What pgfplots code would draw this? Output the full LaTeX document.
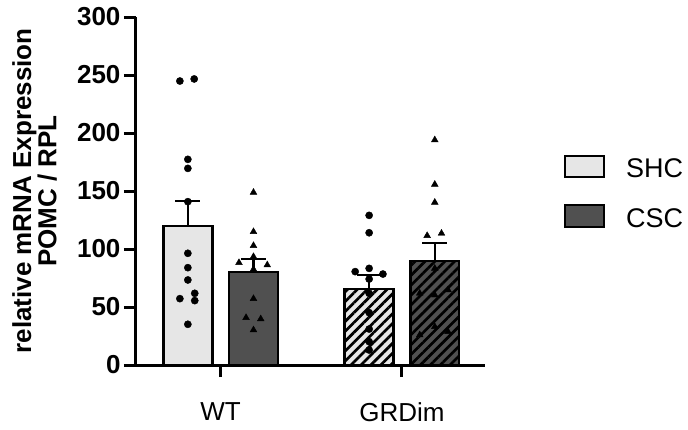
\documentclass[border=0pt]{standalone}
\usepackage{fontspec}
\setmainfont{Liberation Sans}
\usepackage{pgfplots}
\pgfplotsset{compat=1.18}
\usetikzlibrary{patterns.meta}
\definecolor{shcgray}{HTML}{E6E6E6}
\definecolor{cscgray}{HTML}{505050}
\tikzset{
  hatch/.style={postaction={pattern={Lines[angle=45,distance=7pt,line width=2.7pt]}, pattern color=black}},
}
\begin{document}
\begin{tikzpicture}
\begin{axis}[
  scale only axis, width=349pt, height=348pt,
  at={(0,0)}, anchor=south west,
  xmin=0.533, xmax=2.458, ymin=0, ymax=300,
  axis lines=left, axis line style={line width=3pt, -},
  xtick={1,2}, xticklabels={WT,GRDim},
  ytick={0,50,...,300},
  tick align=outside, major tick length=12pt,
  tick style={line width=3pt, black},
  /pgf/number format/assume math mode=true,
  xticklabel style={font=\fontsize{26}{28}\selectfont, yshift=-22pt},
  yticklabel style={font=\bfseries\fontsize{26}{28}\selectfont},
  ylabel={relative mRNA Expression\\POMC / RPL},
  every axis y label/.style={at={(axis description cs:-0.2908,0.5)}, rotate=90, anchor=center,
    align=center, font=\bfseries\fontsize{26}{24}\selectfont},
  clip=false,
]
% bars (mean)
\addplot[ybar, bar width=0.27, bar shift=0pt, fill=shcgray, draw=black, line width=2.4pt,
  error bars/.cd, y dir=plus, y explicit,
  error bar style={line width=2.4pt, black},
  error mark options={rotate=90, mark size=12.5pt, line width=2.4pt, black}]
  coordinates {(0.819,120) +- (0,21.4)};
\addplot[ybar, bar width=0.27, bar shift=0pt, fill=cscgray, draw=black, line width=2.4pt,
  error bars/.cd, y dir=plus, y explicit,
  error bar style={line width=2.4pt, black},
  error mark options={rotate=90, mark size=12.5pt, line width=2.4pt, black}]
  coordinates {(1.181,80.2) +- (0,11.2)};
\addplot[ybar, bar width=0.27, bar shift=0pt, fill=shcgray, draw=black, line width=2.4pt, hatch,
  error bars/.cd, y dir=plus, y explicit,
  error bar style={line width=2.4pt, black},
  error mark options={rotate=90, mark size=12.5pt, line width=2.4pt, black}]
  coordinates {(1.819,65.5) +- (0,12.1)};
\addplot[ybar, bar width=0.27, bar shift=0pt, fill=cscgray, draw=black, line width=2.4pt, hatch,
  error bars/.cd, y dir=plus, y explicit,
  error bar style={line width=2.4pt, black},
  error mark options={rotate=90, mark size=12.5pt, line width=2.4pt, black}]
  coordinates {(2.181,89.4) +- (0,16.0)};
% individual values
\addplot[only marks, mark=*, mark size=3.6pt, black] coordinates {
  (0.775,244.8)(0.854,246.6)(0.819,177.3)(0.819,169.5)(0.819,140.8)(0.819,96.3)
  (0.819,83.9)(0.819,73.3)(0.775,57.2)(0.857,61.8)(0.857,55.5)(0.819,35.1)};
\addplot[only marks, mark=triangle*, mark size=3.9pt, black] coordinates {
  (1.181,148.8)(1.181,114.9)(1.181,102.9)(1.181,93.4)(1.101,88.2)(1.257,86.2)
  (1.181,82.5)(1.181,57.2)(1.140,40.8)(1.221,39.7)(1.181,30.2)};
\addplot[only marks, mark=*, mark size=3.6pt, black] coordinates {
  (1.819,129)(1.819,114)(1.742,80.5)(1.819,83.3)(1.895,78.4)(1.819,74.1)
  (1.819,61.8)(1.819,45.1)(1.819,31)(1.819,20.1)(1.819,12.9)};
\addplot[only marks, mark=triangle*, mark size=3.9pt, black] coordinates {
  (2.181,194)(2.181,155.7)(2.181,140.2)(2.139,111.5)(2.218,113.5)(2.181,83.3)
  (2.098,61.8)(2.181,60.3)(2.254,64.7)(2.181,33)(2.254,28.7)(2.098,25.9)};
\end{axis}
% legend
\draw[fill=shcgray, line width=2pt] (429pt,188pt) rectangle (468pt,209pt);
\draw[fill=cscgray, line width=2pt] (429pt,138pt) rectangle (468pt,160pt);
\node[anchor=base west, inner sep=0pt, font=\fontsize{27}{29}\selectfont] at (490pt,188pt) {SHC};
\node[anchor=base west, inner sep=0pt, font=\fontsize{27}{29}\selectfont] at (490pt,138pt) {CSC};
\pgfresetboundingbox
\path (-136pt,-64pt) rectangle (552pt,365pt);
\end{tikzpicture}
\end{document}
